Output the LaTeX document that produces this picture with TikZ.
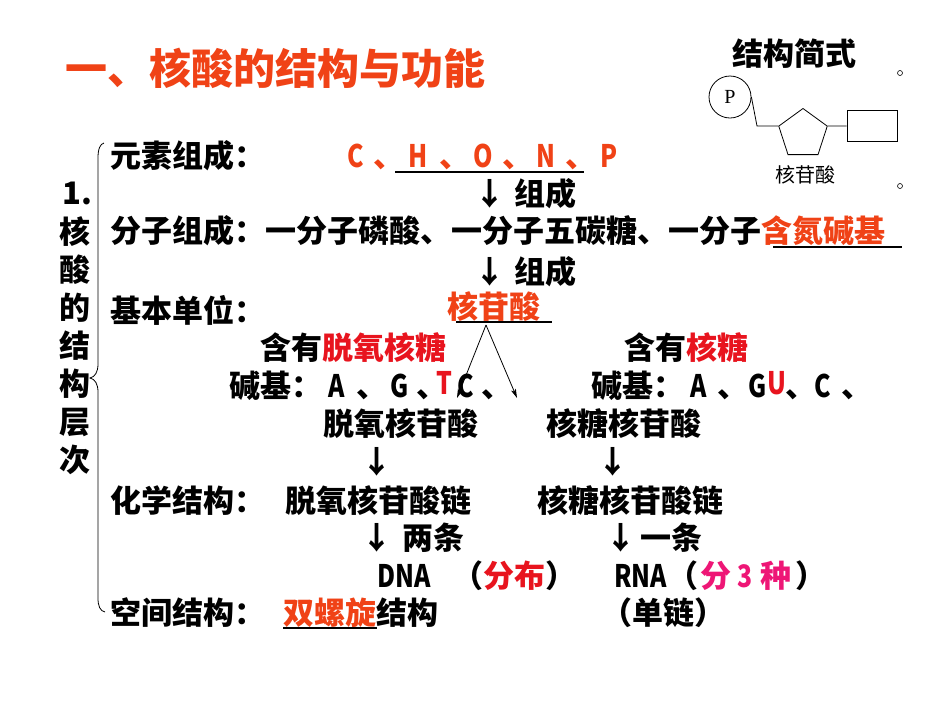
\documentclass[tikz,border=0pt]{standalone}
\usepackage{fontspec}
\usetikzlibrary{arrows.meta,shapes.geometric}
\newfontfamily\cjk{Noto Sans CJK SC}
\newfontfamily\serf{Liberation Serif}
\definecolor{orred}{RGB}{240,66,22}
\definecolor{rd}{RGB}{232,20,30}
\definecolor{mg}{RGB}{238,22,118}
\newcommand{\cnd}[1]{\scalebox{0.8}[1]{\cjk\bfseries #1}}
\newcommand{\dun}{\makebox[13pt][l]{、}}
\begin{document}
\begin{tikzpicture}[x=1pt,y=-1pt,
  t/.style={anchor=base west,inner sep=0pt,font=\cjk\bfseries\fontsize{31}{36}\selectfont},
  tc/.style={anchor=base,inner sep=0pt,font=\cjk\bfseries\fontsize{31}{36}\selectfont},
  ul/.style={line width=1.4pt},
  thinln/.style={line width=0.8pt},
  arr/.style={line width=0.8pt,-{Stealth[length=9pt,width=5pt,inset=2pt]}}]
\fill[white] (0,0) rectangle (950,713);
\useasboundingbox (0,0) rectangle (950,713);
% title
\node[anchor=base west,inner sep=0pt,font=\cjk\bfseries\fontsize{42}{46}\selectfont,orred] (title) at (65,84) {一、核酸的结构与功能};
\node[anchor=base west,inner sep=0pt,font=\cjk\bfseries\fontsize{31}{34}\selectfont] (jgjs) at (732,65) {结构简式};
% nucleotide sketch
\node[circle,draw,thinln,minimum size=42,inner sep=0pt,font=\serf\fontsize{20}{22}\selectfont] (P) at (730,97) {P};
\node[regular polygon,regular polygon sides=5,draw,thinln,minimum size=51,inner sep=0pt] (pent) at (803,134) {};
\node[rectangle,draw,thinln,minimum width=50,minimum height=31,inner sep=0pt] (box) at (872,126) {};
\coordinate (bend) at (757,126);
\draw[thinln] (P.east) -- (bend) -- (pent.corner 2);
\draw[thinln] (pent.corner 5) -- (box.west);
\node[anchor=center,inner sep=0pt,font=\cjk\fontsize{20}{22}\selectfont] (lab) at (805,175) {核苷酸};
\draw[line width=0.6pt] (900,73) circle (2.5);
\draw[line width=0.6pt] (900,186) circle (2.5);
% left column
\node[t] (n1) at (62,204) {1.};
\node[tc] (c1) at (75,243) {核};
\node[tc] (c2) at (75,281) {酸};
\node[tc] (c3) at (75,319) {的};
\node[tc] (c4) at (75,357) {结};
\node[tc] (c5) at (75,395) {构};
\node[tc] (c6) at (75,433) {层};
\node[tc] (c7) at (75,471) {次};
% brace
\draw[line width=0.8pt] (104,143) .. controls (100,144) and (98,149) .. (98,158) -- (98,364)
  .. controls (98,372) and (95,377) .. (90,378) .. controls (95,379) and (98,384) .. (98,392)
  -- (98,598) .. controls (98,606) and (100,611) .. (105,612);
% row 1
\node[t] (r1) at (110,167) {元素组成：};
\node[tc,orred] (eC) at (356,167) {\cnd{C}};
\node[t,orred] (d1) at (373,167) {\dun};
\node[tc,orred] (eH) at (418,167) {\cnd{H}};
\node[t,orred] (d2) at (439,167) {\dun};
\node[tc,orred] (eO) at (483,167) {\cnd{O}};
\node[t,orred] (d3) at (502,167) {\dun};
\node[tc,orred] (eN) at (546,167) {\cnd{N}};
\node[t,orred] (d4) at (565,167) {\dun};
\node[tc,orred] (eP) at (609,167) {\cnd{P}};
\draw[ul] (395,172) -- (584,172);
% row 2
\node[tc] (a1) at (490,205) {↓};
\node[t] (z1) at (514,205) {组成};
% row 3
\node[t] (r3) at (110,242) {分子组成：一分子磷酸、一分子五碳糖、一分子\textcolor{orred}{含氮碱基}};
\draw[ul] (773,247) -- (902,247);
% row 4
\node[tc] (a2) at (490,283) {↓};
\node[t] (z2) at (514,283) {组成};
% row 5
\node[t] (r5) at (110,322) {基本单位：};
\node[t,orred] (hgs) at (447,318) {核苷酸};
\draw[ul] (456,322) -- (552,322);
\coordinate (apex) at (486,325);
\coordinate (dl) at (457,398);
\coordinate (dr) at (517,398);
\draw[arr] (apex) -- (dl);
\draw[arr] (apex) -- (dr);
% row 6
\node[t] (hy1) at (260,359) {含有\textcolor{rd}{脱氧核糖}};
\node[t] (hy2) at (624,359) {含有\textcolor{rd}{核糖}};
% row 7 left
\node[t] (jj1) at (229,397) {碱基：};
\node[tc] (lA) at (337,397) {\cnd{A}};
\node[t] (ld1) at (356,397) {\dun};
\node[tc] (lG) at (400,397) {\cnd{G}};
\node[t] (ld2) at (416,397) {\dun};
\node[tc] (lC) at (466,397) {\cnd{C}};
\node[tc,rd] (lT) at (444,394) {\cnd{T}};
\node[t] (ld3) at (481,397) {\dun};
% row 7 right
\node[t] (jj2) at (591,397) {碱基：};
\node[tc] (rA) at (699,397) {\cnd{A}};
\node[t] (rd1) at (717,397) {\dun};
\node[tc] (rG) at (758,397) {\cnd{G}};
\node[tc,rd] (rU) at (777,394) {\cnd{U}};
\node[t] (rd2) at (785,397) {\dun};
\node[tc] (rC) at (823,397) {\cnd{C}};
\node[t] (rd3) at (841,397) {\dun};
% row 8
\node[t] (tyhg) at (323,435) {脱氧核苷酸};
\node[t] (htg) at (546,435) {核糖核苷酸};
% row 9
\node[tc] (a3) at (377,473) {↓};
\node[tc] (a4) at (613,473) {↓};
% row 10
\node[t] (r10) at (110,512) {化学结构：};
\node[t] (ch1) at (285,512) {脱氧核苷酸链};
\node[t] (ch2) at (537,512) {核糖核苷酸链};
% row 11
\node[tc] (a5) at (377,549) {↓};
\node[t] (lt) at (402,549) {两条};
\node[tc] (a6) at (621,549) {↓};
\node[t] (yt) at (640,549) {一条};
% row 12
\node[t] (dna) at (377,587) {\cnd{DNA}};
\node[t] (fb) at (452,587) {（\textcolor{rd}{分布}）};
\node[t] (rna) at (614,587) {\cnd{RNA}};
\node[t] (lp) at (667,587) {（};
\node[t,mg] (fen) at (700,587) {分};
\node[tc,mg] (three) at (745,587) {\cnd{3}};
\node[t,mg] (zh) at (760,587) {种};
\node[t] (rp) at (795,587) {）};
% row 13
\node[t] (r13) at (110,624) {空间结构：};
\node[t] (slx) at (283,624) {\textcolor{orred}{双螺旋}结构};
\draw[ul] (283,628) -- (377,628);
\node[t] (dl2) at (601,624) {（单链）};
\end{tikzpicture}
\end{document}
